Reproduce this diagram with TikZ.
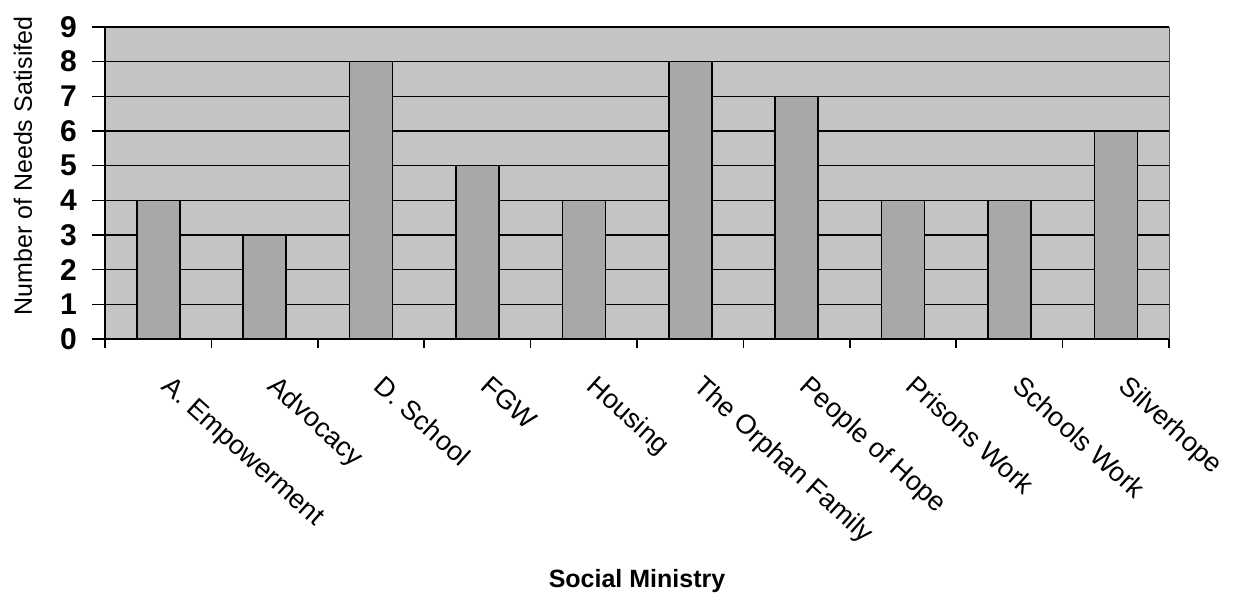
\documentclass[tikz,border=0pt]{standalone}
\usepackage{fontspec}
\setmainfont{Liberation Sans}
\definecolor{plotgrey}{HTML}{C4C4C4}
\definecolor{bargrey}{HTML}{A8A8A8}
\tikzset{
  gridline/.style={black, line width=1.6pt},
  bar/.style={fill=bargrey, draw=black, line width=1.6pt},
  ticklabel/.style={font=\fontsize{30}{30}\selectfont\bfseries, anchor=east, inner sep=0pt},
  catlabel/.style={font=\fontsize{27}{27}\selectfont, anchor=north west, rotate=-42, inner sep=0pt},
  axistitle/.style={font=\fontsize{25}{25}\selectfont, inner sep=0pt}
}
\begin{document}
\begin{tikzpicture}[x=1pt, y=-1pt]
\useasboundingbox (0,0) rectangle (1236,595);

% plot area
\coordinate (origin) at (105,339);
\coordinate (topright) at (1169,27);
\fill[plotgrey] (origin) rectangle (topright);
\draw[gray!60!black, line width=1pt] (origin) rectangle (topright);
\foreach \v in {1,...,9}
  \draw[gridline] (105,{339-34.667*\v}) -- (1169,{339-34.667*\v});

% bars
\foreach \val [count=\i] in {4,3,8,5,4,8,7,4,4,6}
  \draw[bar] ({105+106.4*(\i-0.5)-21.5},339) rectangle ({105+106.4*(\i-0.5)+21.5},{339-34.667*\val});

% axes and ticks
\draw[gridline] (topright -| origin) -- (origin) -- (origin -| topright);
\foreach \v in {0,...,9} {
  \node[ticklabel] (y\v) at (77,{339-34.667*\v}) {\v};
  \draw[gridline] (92,{339-34.667*\v}) -- (105,{339-34.667*\v});
}
\foreach \i in {0,...,10}
  \draw[gridline] ({105+106.4*\i},339) -- ++(0,9);

% category labels
\foreach \name [count=\i] in {A. Empowerment, Advocacy, D. School, FGW, Housing,
    The Orphan Family, People of Hope, Prisons Work, Schools Work, Silverhope}
  \node[catlabel] (cat\i) at ({105+106.4*(\i-0.5)+15},374) {\name};

% axis titles
\node[axistitle, rotate=90] (ytitle) at (23,166) {Number of Needs Satisifed};
\node[axistitle, font=\fontsize{25}{25}\selectfont\bfseries] (xtitle) at (637,581) {Social Ministry};
\end{tikzpicture}
\end{document}
